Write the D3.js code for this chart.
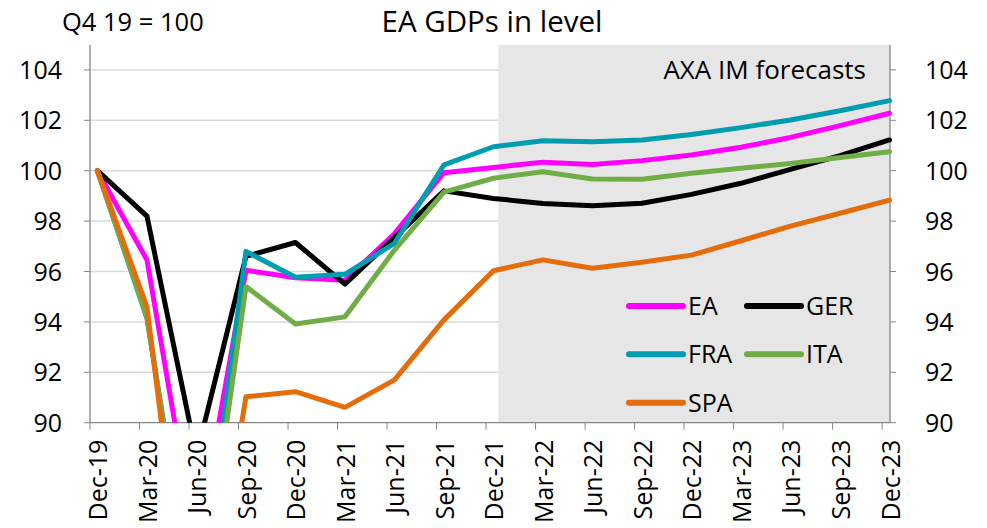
<!DOCTYPE html>
<html>
<head>
<meta charset="utf-8">
<script src="https://cdn.jsdelivr.net/npm/d3@7"></script>
<style>
  body { margin: 0; background: #fff; }
  svg text { font-family: "Open Sans", "Noto Sans", sans-serif; fill: #000; }
</style>
</head>
<body>
<script>
// quarters, Q4 2019 = 100
const dates = ["Dec-19","Mar-20","Jun-20","Sep-20","Dec-20","Mar-21","Jun-21","Sep-21","Dec-21",
               "Mar-22","Jun-22","Sep-22","Dec-22","Mar-23","Jun-23","Sep-23","Dec-23"];
const ea  = [100, 96.46, 85.0, 96.05, 95.75, 95.65, 97.5, 99.92, 100.13, 100.34, 100.25, 100.4, 100.62, 100.93, 101.32, 101.79, 102.28];
const ger = [100, 98.2, 88.7, 96.6, 97.15, 95.5, 97.35, 99.2, 98.9, 98.7, 98.61, 98.71, 99.06, 99.5, 100.05, 100.6, 101.22];
const fra = [100, 94.15, 81.9, 96.8, 95.77, 95.89, 97.12, 100.23, 100.95, 101.19, 101.15, 101.22, 101.44, 101.71, 102.01, 102.38, 102.78];
const ita = [100, 94.2, 81.5, 95.4, 93.92, 94.2, 96.85, 99.15, 99.7, 99.96, 99.67, 99.66, 99.9, 100.1, 100.29, 100.52, 100.75];
const spa = [100, 94.6, 78.9, 91.03, 91.23, 90.61, 91.7, 94.08, 96.03, 96.46, 96.13, 96.37, 96.65, 97.22, 97.8, 98.31, 98.83];
const yTicks = [90, 92, 94, 96, 98, 100, 102, 104];
const forecastStart = 8; // Dec-21

const series = [
  {name: "EA",  values: ea,  color: "#ff00ff"},
  {name: "GER", values: ger, color: "#000000"},
  {name: "FRA", values: fra, color: "#009caf"},
  {name: "ITA", values: ita, color: "#70ad47"},
  {name: "SPA", values: spa, color: "#e46c0a"}
];

const W = 987, H = 528;
const pLeft = 90, pRight = 890, pTop = 44.7, pBottom = 422.7;

const svg = d3.select("body").append("svg")
    .attr("width", W).attr("height", H);

// x: index of the quarter; ticks sit a little before each point
const x = d3.scaleLinear().domain([-0.15, 16.01]).range([pLeft, pRight]);
const y = d3.scaleLinear().domain([90, 105]).range([pBottom, pTop]);

// gridlines
svg.append("g").selectAll("line")
  .data(yTicks.slice(1))
  .join("line")
    .attr("x1", pLeft).attr("x2", pRight)
    .attr("y1", d => y(d)).attr("y2", d => y(d))
    .attr("stroke", "#d9d9d9").attr("stroke-width", 1.5);

// forecast shading
svg.append("rect")
    .attr("x", x(forecastStart + 0.1))
    .attr("y", pTop)
    .attr("width", pRight - x(forecastStart + 0.1))
    .attr("height", pBottom - pTop)
    .attr("fill", "#e6e6e6");

svg.append("text")
    .attr("x", 866).attr("y", 79)
    .attr("text-anchor", "end")
    .style("font-size", "26px")
    .text("AXA IM forecasts");

// axes
const axisColor = "#868686";
svg.append("line").attr("x1", pLeft).attr("x2", pLeft).attr("y1", pTop).attr("y2", pBottom)
    .attr("stroke", axisColor).attr("stroke-width", 1.3);
svg.append("line").attr("x1", pRight).attr("x2", pRight).attr("y1", pTop).attr("y2", pBottom)
    .attr("stroke", axisColor).attr("stroke-width", 1.3);
svg.append("line").attr("x1", pLeft).attr("x2", pRight).attr("y1", pBottom).attr("y2", pBottom)
    .attr("stroke", axisColor).attr("stroke-width", 1.3);

const yl = svg.append("g");
yl.selectAll(".tl").data(yTicks).join("line")
    .attr("x1", pLeft - 6).attr("x2", pLeft)
    .attr("y1", d => y(d)).attr("y2", d => y(d))
    .attr("stroke", axisColor);
yl.selectAll(".tr").data(yTicks).join("line")
    .attr("x1", pRight).attr("x2", pRight + 6)
    .attr("y1", d => y(d)).attr("y2", d => y(d))
    .attr("stroke", axisColor);
yl.selectAll(".ll").data(yTicks).join("text")
    .attr("x", 62).attr("y", d => y(d) + 9)
    .attr("text-anchor", "end")
    .style("font-size", "25px")
    .text(d => d);
yl.selectAll(".lr").data(yTicks).join("text")
    .attr("x", 925).attr("y", d => y(d) + 9)
    .style("font-size", "25px")
    .text(d => d);

// x ticks and labels
svg.append("g").selectAll("line")
  .data(dates)
  .join("line")
    .attr("x1", (d, i) => x(i - 0.15)).attr("x2", (d, i) => x(i - 0.15))
    .attr("y1", pBottom).attr("y2", pBottom + 7)
    .attr("stroke", axisColor);

svg.append("g").selectAll("text")
  .data(dates)
  .join("text")
    .attr("transform", (d, i) => `translate(${x(i) + 10},${pBottom + 17}) rotate(-90)`)
    .attr("text-anchor", "end")
    .style("font-size", "25px")
    .text(d => d);

// lines, clipped to the plot area
svg.append("clipPath").attr("id", "plot")
  .append("rect").attr("x", pLeft).attr("y", pTop)
    .attr("width", pRight - pLeft + 6).attr("height", pBottom - pTop);

const line = d3.line()
    .x((d, i) => x(i))
    .y(d => y(d));

svg.append("g").attr("clip-path", "url(#plot)")
  .selectAll("path")
  .data(series)
  .join("path")
    .attr("d", d => line(d.values))
    .attr("fill", "none")
    .attr("stroke", d => d.color)
    .attr("stroke-width", 5)
    .attr("stroke-linejoin", "round")
    .attr("stroke-linecap", "round");

// legend
const legendPos = [[629, 306], [747, 306], [629, 354.3], [747, 354.3], [629, 402.7]];
const leg = svg.append("g").selectAll("g")
  .data(series)
  .join("g")
    .attr("transform", (d, i) => `translate(${legendPos[i][0]},${legendPos[i][1]})`);
leg.append("line")
    .attr("x1", 0).attr("x2", 54)
    .attr("stroke", d => d.color).attr("stroke-width", 6)
    .attr("stroke-linecap", "round");
leg.append("text")
    .attr("x", 59).attr("y", 9)
    .style("font-size", "25px")
    .text(d => d.name);

// titles
svg.append("text")
    .attr("x", 492).attr("y", 32)
    .attr("text-anchor", "middle")
    .style("font-size", "29.5px")
    .text("EA GDPs in level");
svg.append("text")
    .attr("x", 62).attr("y", 31)
    .style("font-size", "25.5px")
    .text("Q4 19 = 100");
</script>
</body>
</html>
